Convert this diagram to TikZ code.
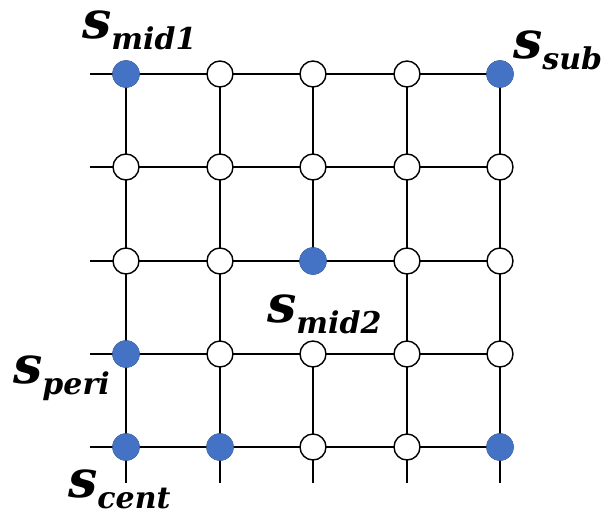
\documentclass[tikz,border=0pt]{standalone}
\usepackage{fontspec}
\newfontfamily\lblfont{DejaVu Serif}
\usetikzlibrary{backgrounds}
\definecolor{dotblue}{HTML}{4472C4}
\tikzset{
  x=1pt, y=-1pt,
  site/.style={circle, draw=black, line width=1.4pt, fill=white, minimum size=26pt, inner sep=0pt},
  hot/.style={circle, draw=none, fill=dotblue, minimum size=27.5pt, inner sep=0pt},
  wire/.style={line width=2pt, black},
  tag/.style={anchor=base west, inner sep=0pt, font=\lblfont\bfseries\itshape}
}
\newcommand{\svar}[1]{{\fontsize{52}{52}\selectfont s}{\fontsize{30}{30}\selectfont\raisebox{-11pt}{#1}}}
\begin{document}
\begin{tikzpicture}
\useasboundingbox (0,0) rectangle (611,515);
% lattice sites
\foreach \y [count=\r] in {74,167,261,354,447}{
  \foreach \x [count=\c] in {126,220,313,407,500}{
    \node[site] (n-\r-\c) at (\x,\y) {};
  }
}
% highlighted sites
\foreach \r/\c in {1/1,1/5,3/3,4/1,5/1,5/2,5/5}{
  \node[hot] at (n-\r-\c) {};
}
% free ends of the lattice lines
\foreach \r in {1,...,5}{ \coordinate (w-\r) at ([xshift=-36pt]n-\r-1.center); }
\foreach \c in {1,...,5}{ \coordinate (s-\c) at ([yshift=-36pt]n-5-\c.center); }
\begin{scope}[on background layer]
  \foreach \r in {1,...,5}{
    \draw[wire] (w-\r) -- (n-\r-1.center) -- (n-\r-2.center) -- (n-\r-3.center) -- (n-\r-4.center) -- (n-\r-5.center);
  }
  \foreach \c in {1,2,4,5}{
    \draw[wire] (n-1-\c.center) -- (n-2-\c.center) -- (n-3-\c.center) -- (n-4-\c.center) -- (n-5-\c.center) -- (s-\c);
  }
  \draw[wire] (n-1-3.center) -- (n-2-3.center) -- (n-3-3.center);
  \draw[wire] (n-4-3.center) -- (n-5-3.center) -- (s-3);
\end{scope}
% labels
\node[tag] (l-mid1) at (82,38) {\svar{mid1}};
\node[tag] (l-sub) at (513,58) {\svar{sub}};
\node[tag] (l-mid2) at (267,322) {\svar{mid2}};
\node[tag] (l-peri) at (13,383) {\svar{peri}};
\node[tag] (l-cent) at (68,497) {\svar{cent}};
\end{tikzpicture}
\end{document}
